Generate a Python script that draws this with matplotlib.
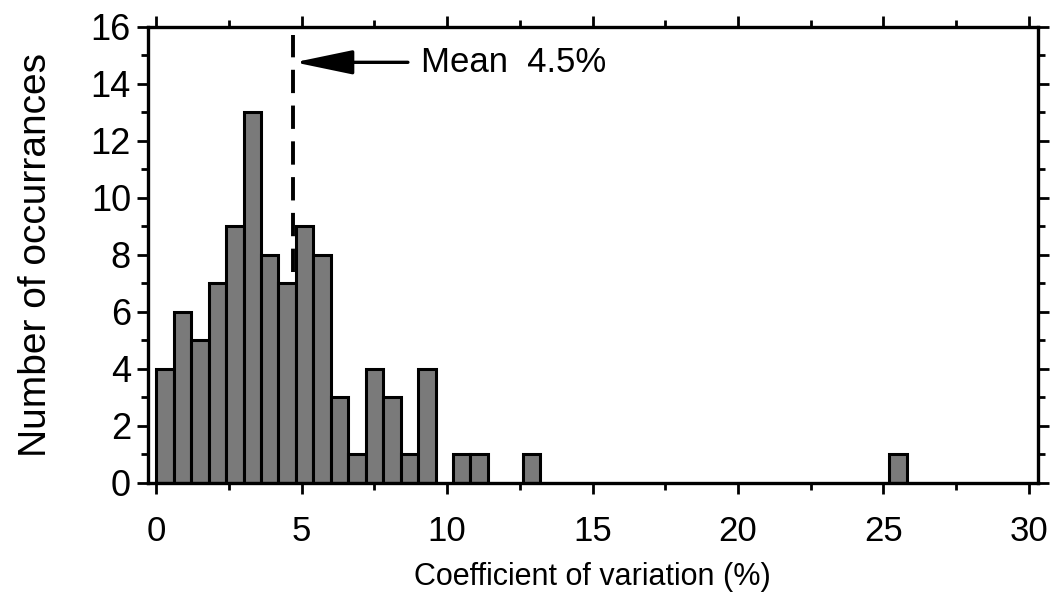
import numpy as np
import matplotlib.pyplot as plt
from matplotlib.ticker import MultipleLocator

# histogram bins (left edge, % ) and counts
bin_left = [0.0, 0.6, 1.2, 1.8, 2.4, 3.0, 3.6, 4.2, 4.8, 5.4,
            6.0, 6.6, 7.2, 7.8, 8.4, 9.0, 10.2, 10.8, 12.6, 25.2]
counts = [4, 6, 5, 7, 9, 13, 8, 7, 9, 8,
          3, 1, 4, 3, 1, 4, 1, 1, 1, 1]
bin_width = 0.6
mean_pos = 4.7
mean_label = 'Mean  4.5%'

plt.rcParams['font.family'] = ['Liberation Sans', 'DejaVu Sans']

fig = plt.figure(figsize=(10.62, 6.06), dpi=100)
ax = fig.add_axes([0.139, 0.203, 0.838, 0.753])

ax.bar(bin_left, counts, width=bin_width, align='edge',
       color='#7a7a7a', edgecolor='black', linewidth=2.2, zorder=2)

ax.plot([mean_pos, mean_pos], [7.4, 15.7], color='black', lw=2.8,
        dashes=(6, 3.2), zorder=3)
ax.annotate('', xy=(mean_pos + 0.05, 14.75), xytext=(8.65, 14.75),
            arrowprops=dict(arrowstyle='-|>,head_length=1.2,head_width=0.25',
                            color='black', lw=2.4,
                            mutation_scale=30, shrinkA=0, shrinkB=0))
ax.text(9.1, 14.75, mean_label, fontsize=25, va='center', ha='left')

ax.set_xlim(-0.3, 30.3)
ax.set_ylim(0, 16)
ax.xaxis.set_major_locator(MultipleLocator(5))
ax.xaxis.set_minor_locator(MultipleLocator(2.5))
ax.yaxis.set_major_locator(MultipleLocator(2))
ax.yaxis.set_minor_locator(MultipleLocator(1))

for s in ax.spines.values():
    s.set_linewidth(2.4)

ax.tick_params(axis='both', which='both', direction='out', top=True, right=True,
               width=2, colors='black')
ax.tick_params(axis='both', which='major', length=8)
ax.tick_params(axis='both', which='minor', length=5)
ax.tick_params(axis='x', which='major', labelsize=25, pad=15)
ax.tick_params(axis='y', which='major', labelsize=26, pad=4)

ax.set_xlabel('Coefficient of variation (%)', fontsize=22, labelpad=10)
ax.set_ylabel('Number of occurrances', fontsize=28, labelpad=26)

fig.savefig('out.png', dpi=100)
